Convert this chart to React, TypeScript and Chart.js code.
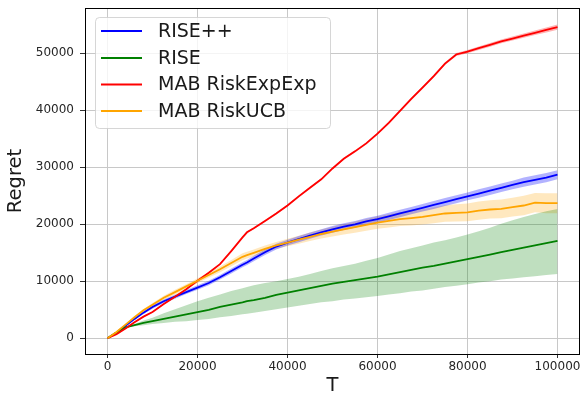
import React, { useEffect, useRef } from "react";
import { Chart, registerables } from "chart.js";

Chart.register(...registerables);

// ---- data ----
const T = [
  0, 2000, 4000, 6000, 8000, 10000, 12500, 15000, 17500, 20000, 22500, 25000,
  27500, 30000, 31000, 32500, 35000, 37500, 40000, 42500, 45000, 47500, 50000,
  52500, 55000, 57500, 60000, 62500, 65000, 67500, 70000, 72500, 75000, 77500,
  80000, 82500, 85000, 87500, 90000, 92500, 95000, 97500, 100000,
];

const risePPMean = [
  0, 1000, 2200, 3400, 4500, 5500, 6500, 7300, 8100, 8900, 9700, 10700, 11800,
  12900, 13300, 14000, 15100, 16100, 16800, 17400, 18000, 18600, 19100, 19600,
  20000, 20500, 20900, 21400, 21900, 22400, 22900, 23400, 23900, 24400, 24900,
  25400, 25900, 26400, 26900, 27400, 27800, 28200, 28700,
];
const risePPSpread = [
  0, 100, 150, 200, 250, 300, 300, 350, 350, 400, 400, 400, 450, 450, 450, 500,
  500, 500, 500, 550, 550, 550, 600, 600, 600, 600, 600, 650, 650, 650, 650,
  700, 700, 700, 700, 750, 750, 750, 750, 800, 800, 800, 800,
];

const riseMean = [
  0, 1000, 1900, 2300, 2700, 3000, 3400, 3800, 4200, 4600, 5000, 5500, 5900,
  6300, 6500, 6700, 7100, 7600, 8000, 8400, 8800, 9200, 9600, 9900, 10200,
  10500, 10800, 11200, 11600, 12000, 12400, 12700, 13100, 13500, 13900, 14300,
  14700, 15100, 15500, 15900, 16300, 16700, 17100,
];
const riseHigh = [
  0, 1000, 1900, 2500, 3100, 3600, 4400, 5100, 5800, 6500, 7100, 7700, 8300,
  8800, 9000, 9300, 9700, 10000, 10400, 10800, 11300, 11800, 12300, 12700,
  13100, 13600, 14100, 14700, 15300, 15800, 16300, 16800, 17200, 17700, 18200,
  18800, 19400, 20100, 20700, 21300, 21800, 22300, 22700,
];
const riseLow = [
  0, 1000, 1800, 2100, 2300, 2500, 2700, 2900, 3000, 3200, 3400, 3700, 3900,
  4200, 4300, 4500, 4800, 5100, 5400, 5700, 6000, 6300, 6500, 6800, 7000, 7200,
  7400, 7700, 7900, 8200, 8400, 8700, 9000, 9200, 9500, 9800, 10000, 10300,
  10500, 10700, 10900, 11100, 11300,
];

const expMean = [
  0, 700, 1700, 2800, 3800, 4600, 6000, 7300, 8600, 10100, 11500, 13000, 15300,
  17700, 18600, 19300, 20600, 21900, 23300, 24900, 26400, 27900, 29800, 31500,
  32800, 34200, 35900, 37800, 39900, 42000, 44000, 46000, 48200, 49800, 50300,
  50900, 51500, 52100, 52600, 53100, 53600, 54100, 54600,
];
const expSpread = [
  0, 50, 80, 100, 100, 120, 120, 130, 130, 140, 150, 150, 150, 160, 160, 160,
  170, 170, 170, 180, 180, 180, 190, 190, 200, 200, 200, 210, 220, 230, 240,
  250, 260, 270, 280, 300, 320, 340, 360, 380, 400, 420, 450,
];

const ucbMean = [
  0, 1100, 2400, 3700, 4900, 5900, 7100, 8100, 9100, 10100, 11100, 12100, 13200,
  14300, 14600, 15000, 15700, 16300, 16800, 17300, 17800, 18300, 18700, 19100,
  19500, 19900, 20300, 20600, 20900, 21100, 21300, 21600, 21900, 22000, 22100,
  22400, 22600, 22700, 23000, 23300, 23800, 23700, 23700,
];
const ucbSpread = [
  0, 100, 150, 200, 250, 300, 350, 400, 400, 450, 450, 500, 550, 600, 600, 600,
  600, 600, 650, 700, 750, 800, 850, 900, 1000, 1050, 1100, 1150, 1200, 1300,
  1350, 1400, 1450, 1500, 1550, 1600, 1600, 1650, 1650, 1700, 1700, 1750, 1750,
];

const xTicks = [0, 20000, 40000, 60000, 80000, 100000];
const yTicks = [0, 10000, 20000, 30000, 40000, 50000];
const legendLabels = ["RISE++", "RISE", "MAB RiskExpExp", "MAB RiskUCB"];
const lineColors = ["#0000ff", "#008000", "#ff0000", "#ffa500"];
const bandColors = [
  "rgba(0,0,255,0.3)",
  "rgba(0,128,0,0.25)",
  "rgba(255,0,0,0.3)",
  "rgba(255,165,0,0.25)",
];

const FONT = "'DejaVu Sans', 'Liberation Sans', sans-serif";

const pts = (ys: number[]) => T.map((x, i) => ({ x, y: ys[i] }));
const addArr = (a: number[], b: number[], s: number) =>
  a.map((v, i) => v + s * b[i]);

const frameLegendPlugin = {
  id: "frameLegend",
  afterDraw(chart: any) {
    const { ctx, chartArea: a } = chart;
    ctx.save();
    // frame (spines)
    ctx.strokeStyle = "#000";
    ctx.lineWidth = 1;
    const l = Math.round(a.left) + 0.5;
    const t = Math.round(a.top) + 0.5;
    const r = Math.round(a.right) - 0.5;
    const b = Math.round(a.bottom) + 0.5;
    ctx.strokeRect(l, t, r - l, b - t);

    // legend box
    const bx = 95.5,
      by = 17.5,
      bw = 235,
      bh = 111,
      rad = 4;
    ctx.beginPath();
    ctx.moveTo(bx + rad, by);
    ctx.lineTo(bx + bw - rad, by);
    ctx.arcTo(bx + bw, by, bx + bw, by + rad, rad);
    ctx.lineTo(bx + bw, by + bh - rad);
    ctx.arcTo(bx + bw, by + bh, bx + bw - rad, by + bh, rad);
    ctx.lineTo(bx + rad, by + bh);
    ctx.arcTo(bx, by + bh, bx, by + bh - rad, rad);
    ctx.lineTo(bx, by + rad);
    ctx.arcTo(bx, by, bx + rad, by, rad);
    ctx.closePath();
    ctx.fillStyle = "rgba(255,255,255,0.8)";
    ctx.fill();
    ctx.strokeStyle = "rgba(204,204,204,0.8)";
    ctx.lineWidth = 1;
    ctx.stroke();

    const rows = [31, 58, 84.5, 111];
    ctx.font = `19px ${FONT}`;
    ctx.textBaseline = "middle";
    ctx.textAlign = "left";
    legendLabels.forEach((lab, i) => {
      ctx.strokeStyle = lineColors[i];
      ctx.lineWidth = 2;
      ctx.beginPath();
      ctx.moveTo(101, rows[i]);
      ctx.lineTo(142, rows[i]);
      ctx.stroke();
      ctx.fillStyle = "#1a1a1a";
      ctx.fillText(lab, 158, rows[i] + 1);
    });
    ctx.restore();
  },
};

export default function App() {
  const ref = useRef<HTMLCanvasElement | null>(null);

  useEffect(() => {
    document.body.style.margin = "0";
    const canvas = ref.current;
    if (!canvas) return;

    const line = (i: number, ys: number[], order: number) => ({
      label: legendLabels[i],
      data: pts(ys),
      borderColor: lineColors[i],
      backgroundColor: lineColors[i],
      borderWidth: 1.8,
      pointRadius: 0,
      tension: 0,
      fill: false,
      order,
    });
    const bandHigh = (i: number, ys: number[], target: number) => ({
      label: legendLabels[i] + " high",
      data: pts(ys),
      borderColor: "rgba(0,0,0,0)",
      borderWidth: 0,
      backgroundColor: bandColors[i],
      pointRadius: 0,
      tension: 0,
      fill: { target },
      order: 10,
    });
    const bandLow = (i: number, ys: number[]) => ({
      label: legendLabels[i] + " low",
      data: pts(ys),
      borderColor: "rgba(0,0,0,0)",
      borderWidth: 0,
      pointRadius: 0,
      tension: 0,
      fill: false,
      order: 10,
    });

    const datasets: any[] = [
      line(3, ucbMean, 0),
      line(2, expMean, 1),
      line(1, riseMean, 2),
      line(0, risePPMean, 3),
      bandHigh(0, addArr(risePPMean, risePPSpread, 1), 5),
      bandLow(0, addArr(risePPMean, risePPSpread, -1)),
      bandHigh(1, riseHigh, 7),
      bandLow(1, riseLow),
      bandHigh(2, addArr(expMean, expSpread, 1), 9),
      bandLow(2, addArr(expMean, expSpread, -1)),
      bandHigh(3, addArr(ucbMean, ucbSpread, 1), 11),
      bandLow(3, addArr(ucbMean, ucbSpread, -1)),
    ];

    const tickFont = { family: FONT, size: 12 };
    const titleFont = { family: FONT, size: 19.5 };

    const chart = new Chart(canvas, {
      type: "line",
      data: { datasets },
      options: {
        animation: false,
        responsive: false,
        devicePixelRatio: 1,
        layout: { padding: { top: 8, right: 1, left: 0, bottom: 0 } },
        plugins: {
          legend: { display: false },
          tooltip: { enabled: false },
        },
        scales: {
          x: {
            type: "linear",
            min: -5000,
            max: 105000,
            afterBuildTicks: (s: any) => {
              s.ticks = xTicks.map((v) => ({ value: v }));
            },
            afterFit: (s: any) => {
              s.height = 46;
              s.paddingLeft = 0;
              s.paddingRight = 0;
            },
            ticks: {
              font: tickFont,
              color: "#262626",
              padding: 2,
              maxRotation: 0,
              autoSkip: false,
              callback: (v: any) => String(v),
            },
            grid: {
              color: "#c8c8c8",
              lineWidth: 1,
              tickLength: 4,
              tickColor: "#333",
            },
            border: { display: false },
            title: {
              display: true,
              text: "T",
              font: titleFont,
              color: "#1a1a1a",
              padding: { top: 0, bottom: 2 },
            },
          },
          y: {
            type: "linear",
            min: -2760,
            max: 57960,
            afterBuildTicks: (s: any) => {
              s.ticks = yTicks.map((v) => ({ value: v }));
            },
            afterFit: (s: any) => {
              s.width = 85;
              s.paddingTop = 0;
              s.paddingBottom = 0;
            },
            ticks: {
              font: tickFont,
              color: "#262626",
              padding: 6,
              autoSkip: false,
              callback: (v: any) => String(v),
            },
            grid: {
              color: "#c8c8c8",
              lineWidth: 1,
              tickLength: 5,
              tickColor: "#333",
            },
            border: { display: false },
            title: {
              display: true,
              text: "Regret",
              font: titleFont,
              color: "#1a1a1a",
              padding: { top: 4, bottom: 0 },
            },
          },
        },
      },
      plugins: [frameLegendPlugin],
    });

    return () => chart.destroy();
  }, []);

  return (
    <div style={{ width: 581, height: 400, position: "relative" }}>
      <canvas ref={ref} width={581} height={400} />
    </div>
  );
}
